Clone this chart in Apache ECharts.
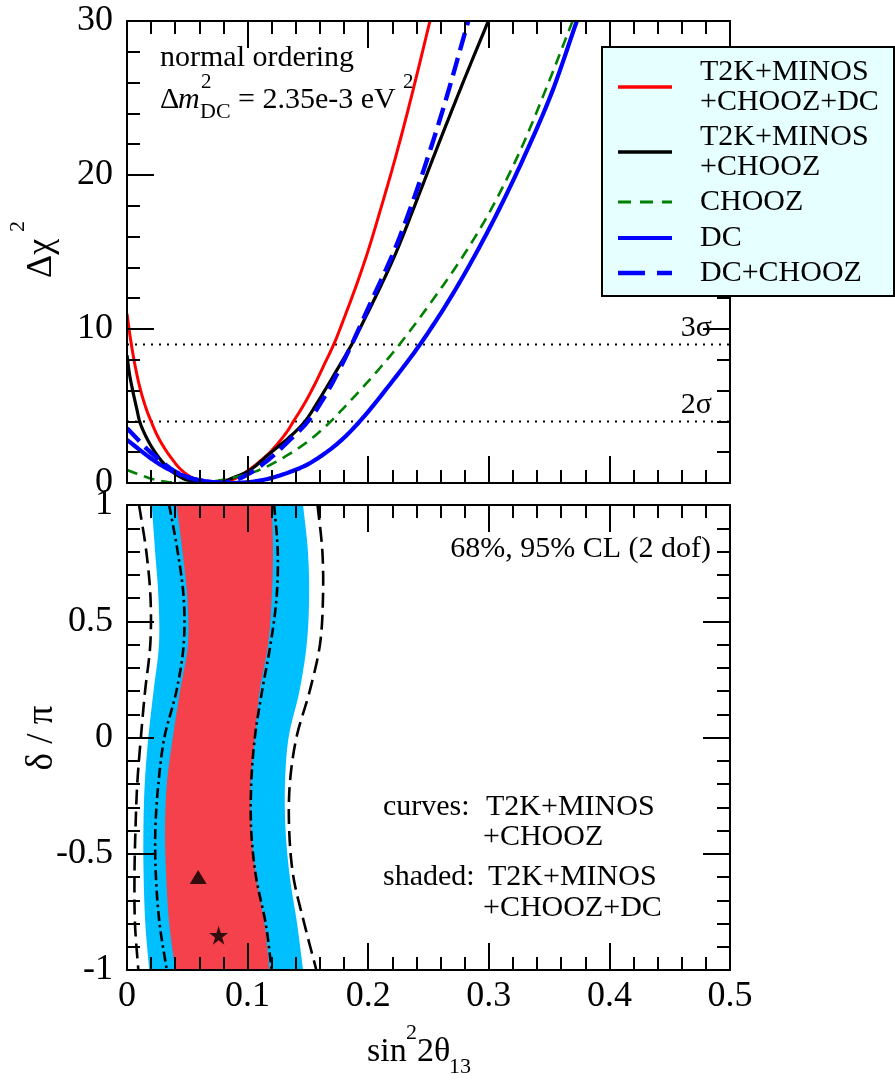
<!DOCTYPE html>
<html><head><meta charset="utf-8">
<script src="https://cdn.jsdelivr.net/npm/echarts@6/dist/echarts.min.js"></script>
<style>html,body{margin:0;padding:0;background:#fff}#c{width:895px;height:1085px}</style>
</head><body><div id="c"></div>
<script>
// ---------- top panel: Δχ² vs sin²2θ13 ----------
const chiT2kMinosChoozDc = [[0,11.0],[0.003,9.3],[0.007,7.5],[0.011,6.1],[0.016,4.8],[0.02,4.0],[0.025,3.1],[0.03,2.4],[0.036,1.7],[0.045,0.85],[0.055,0.3],[0.065,0.06],[0.077,0],[0.09,0.3],[0.102,0.9],[0.1186,2.0],[0.1324,3.3],[0.138,4.0],[0.146,5.0],[0.155,6.3],[0.163,7.6],[0.172,9.1],[0.18,10.7],[0.19,12.8],[0.2,15.1],[0.21,17.7],[0.22,20.4],[0.23,23.3],[0.24,26.4],[0.2512,30]];
const chiT2kMinosChooz = [[0,8.3],[0.002,7.1],[0.005,5.9],[0.008,4.85],[0.0105,4.0],[0.014,3.3],[0.02,2.4],[0.027,1.6],[0.035,0.9],[0.045,0.35],[0.055,0.08],[0.068,0],[0.08,0.12],[0.09,0.4],[0.102,0.84],[0.1186,1.93],[0.135,3.0],[0.1476,4.0],[0.16,5.5],[0.173,7.2],[0.1863,9.0],[0.2043,11.8],[0.2222,14.8],[0.24,18.3],[0.2568,21.7],[0.2789,26.06],[0.2996,30]];
const chiChooz = [[0,0.85],[0.011,0.52],[0.022,0.24],[0.035,0.05],[0.05,0],[0.065,0.04],[0.08,0.22],[0.102,0.63],[0.1186,1.17],[0.146,2.47],[0.165,3.7],[0.18,4.9],[0.2,6.6],[0.226,9.0],[0.26,12.6],[0.28,14.9],[0.3,17.5],[0.325,21.4],[0.348,25.7],[0.3695,30]];
const chiDc = [[0,2.8],[0.0108,2.14],[0.0216,1.5],[0.033,0.95],[0.044,0.56],[0.057,0.24],[0.071,0.06],[0.085,0],[0.1,0.05],[0.1186,0.3],[0.146,1.06],[0.16,1.7],[0.1766,2.7],[0.193,4.0],[0.218,6.4],[0.243,9.0],[0.268,12.0],[0.29,15.0],[0.31,18.0],[0.33,21.3],[0.352,25.3],[0.373,30]];
const chiDcChooz = [[0,3.55],[0.008,2.9],[0.016,2.25],[0.027,1.5],[0.038,0.84],[0.049,0.41],[0.063,0.12],[0.077,0.02],[0.09,0.2],[0.102,0.65],[0.1186,1.6],[0.1324,2.6],[0.15,4.0],[0.163,5.5],[0.1808,8.1],[0.2043,12.1],[0.2222,15.2],[0.2402,19.0],[0.261,24.0],[0.283,30]];
const sigmaLevels = [9, 4];
const sigmaLabels = ['3σ', '2σ'];
const legendNames = [['T2K+MINOS','+CHOOZ+DC'],['T2K+MINOS','+CHOOZ'],['CHOOZ'],['DC'],['DC+CHOOZ']];

// ---------- bottom panel: δ/π vs sin²2θ13 (boundary x at each δ/π) ----------
const deltaGrid     = [1, 0.8, 0.6, 0.4, 0.2, 0, -0.2, -0.4, -0.6, -0.8, -1];
const band95Left    = [0.0205,0.0233,0.0261,0.0265,0.022,0.0177,0.0147,0.0136,0.0138,0.0152,0.0184];
const band95Right   = [0.146,0.150,0.151,0.149,0.143,0.134,0.131,0.1315,0.135,0.141,0.146];
const band68Left    = [0.041,0.046,0.050,0.0505,0.044,0.038,0.033,0.0315,0.0325,0.035,0.040];
const band68Right   = [0.120,0.121,0.120,0.117,0.110,0.106,0.1025,0.103,0.107,0.114,0.118];
const curve68Left   = [0.035,0.042,0.047,0.047,0.041,0.031,0.026,0.0235,0.024,0.027,0.033];
const curve68Right  = [0.122,0.125,0.124,0.119,0.112,0.106,0.103,0.103,0.107,0.115,0.120];
const curve95Left   = [0.010,0.016,0.0195,0.0193,0.015,0.0115,0.0085,0.007,0.0062,0.0066,0.0094];
const curve95Right  = [0.158,0.162,0.1625,0.160,0.1515,0.1405,0.135,0.1345,0.138,0.147,0.157];
const bestFitCurves = [0.059, -0.6];   // triangle
const bestFitShaded = [0.076, -0.85];  // star

const xTicks = { min: 0, max: 0.5, interval: 0.1 };
const chiTicks = { min: 0, max: 30, interval: 10 };
const deltaTicks = { min: -1, max: 1, interval: 0.5 };

// ---------- helpers ----------
const FF = '"Liberation Serif", "Times New Roman", serif';
const pair = (xs) => xs.map((x, i) => [x, deltaGrid[i]]);

function axisCommon(showLabel, splitNum) {
  return {
    type: 'value', z: 10,
    axisLine: { show: true, onZero: false, lineStyle: { color: '#000', width: 2 } },
    axisTick: { show: true, inside: true, length: 27, lineStyle: { color: '#000', width: 2 } },
    minorTick: { show: true, splitNumber: splitNum, length: 13, lineStyle: { color: '#000', width: 2 } },
    splitLine: { show: false }, minorSplitLine: { show: false },
    axisLabel: { show: showLabel, color: '#000', fontFamily: FF, fontSize: 36, showMinLabel: true, showMaxLabel: true,
      formatter: v => String(Math.round(v * 1000) / 1000) }
  };
}
function xAx(grid, pos, lab) { return Object.assign(axisCommon(lab, 5), { gridIndex: grid, position: pos }, xTicks); }
function yAx(grid, pos, lab, t) { return Object.assign(axisCommon(lab, 5), { gridIndex: grid, position: pos }, t); }

// centripetal Catmull-Rom through pixel points (rendering only)
function spline(pts, n) {
  if (pts.length < 3) return pts.slice();
  const out = [];
  const d = (a, b) => Math.pow(Math.hypot(b[0] - a[0], b[1] - a[1]), 0.5) || 1e-6;
  const m = pts.length;
  const ext0 = [2 * pts[0][0] - pts[1][0], 2 * pts[0][1] - pts[1][1]];
  const extN = [2 * pts[m - 1][0] - pts[m - 2][0], 2 * pts[m - 1][1] - pts[m - 2][1]];
  for (let i = 0; i < m - 1; i++) {
    const p0 = i === 0 ? ext0 : pts[i - 1], p1 = pts[i], p2 = pts[i + 1], p3 = i + 2 < m ? pts[i + 2] : extN;
    const t0 = 0, t1 = t0 + d(p0, p1), t2 = t1 + d(p1, p2), t3 = t2 + d(p2, p3);
    for (let k = 0; k < n; k++) {
      const t = t1 + (t2 - t1) * k / n;
      const L = (a, b, ta, tb) => [(tb - t) / (tb - ta) * a[0] + (t - ta) / (tb - ta) * b[0], (tb - t) / (tb - ta) * a[1] + (t - ta) / (tb - ta) * b[1]];
      const A1 = L(p0, p1, t0, t1), A2 = L(p1, p2, t1, t2), A3 = L(p2, p3, t2, t3);
      const B1 = L(A1, A2, t0, t2), B2 = L(A2, A3, t1, t3);
      out.push(L(B1, B2, t1, t2));
    }
  }
  out.push(pts[m - 1]);
  return out;
}
function bandSeries(leftXs, rightXs, color) {
  return { type: 'custom', xAxisIndex: 2, yAxisIndex: 2, data: [[0.05, 0]], clip: true, silent: true, z: 1,
    renderItem: function (params, api) {
      if (params.dataIndex > 0) return null;
      const L = deltaGrid.map((dd, i) => api.coord([leftXs[i], dd]));
      const R = deltaGrid.map((dd, i) => api.coord([rightXs[i], dd])).reverse();
      return { type: 'polygon', shape: { points: spline(L, 12).concat(spline(R, 12)) }, style: { fill: color } };
    } };
}
function curveSeries(xi, yi, pts, color, width, dash, z) {
  return { type: 'custom', xAxisIndex: xi, yAxisIndex: yi, data: [[0.05, 0]], clip: true, silent: true, z: z || 3,
    renderItem: function (params, api) {
      if (params.dataIndex > 0) return null;
      const P = pts.map(p => api.coord(p));
      return { type: 'polyline', shape: { points: spline(P, 10) },
        style: { stroke: color, lineWidth: width, lineDash: dash || null, fill: null, lineCap: 'butt', lineJoin: 'round' } };
    } };
}

const series = [];
sigmaLevels.forEach(l => series.push({ type: 'line', xAxisIndex: 0, yAxisIndex: 0, data: [[xTicks.min, l], [xTicks.max, l]],
  symbol: 'none', silent: true, z: 2, lineStyle: { color: '#000', width: 2, type: [2, 6] } }));
series.push(curveSeries(0, 0, chiT2kMinosChoozDc, '#FF0000', 3));
series.push(curveSeries(0, 0, chiT2kMinosChooz, '#000000', 3.2));
series.push(curveSeries(0, 0, chiChooz, '#008000', 2.6, [11, 7]));
series.push(curveSeries(0, 0, chiDc, '#0000FF', 4.2));
series.push(curveSeries(0, 0, chiDcChooz, '#0000FF', 4.4, [18, 8]));

series.push(bandSeries(band95Left, band95Right, '#00BFFF'));
series.push(bandSeries(band68Left, band68Right, '#F5414B'));
series.push(curveSeries(2, 2, pair(curve68Left), '#000', 2.6, [10, 4, 2.5, 4]));
series.push(curveSeries(2, 2, pair(curve68Right), '#000', 2.6, [10, 4, 2.5, 4]));
series.push(curveSeries(2, 2, pair(curve95Left), '#000', 2.6, [15, 7]));
series.push(curveSeries(2, 2, pair(curve95Right), '#000', 2.6, [15, 7]));
series.push({ type: 'scatter', xAxisIndex: 2, yAxisIndex: 2, data: [bestFitCurves], symbol: 'triangle', symbolSize: [17, 14],
  itemStyle: { color: '#000' }, silent: true, z: 5 });
series.push({ type: 'scatter', xAxisIndex: 2, yAxisIndex: 2, data: [bestFitShaded],
  symbol: 'path://M50,0 L61,35 L98,35 L68,57 L79,91 L50,70 L21,91 L32,57 L2,35 L39,35 Z', symbolSize: 19,
  itemStyle: { color: '#000' }, silent: true, z: 5 });

// ---------- text / legend graphics ----------
const T = (text, x, y, size, opts) => Object.assign({ type: 'text', x, y, z: 100, silent: true,
  style: Object.assign({ text, fill: '#000', font: size + 'px ' + FF, align: 'left', verticalAlign: 'middle' }, opts || {}) });
const G = [];
G.push({ type: 'rect', z: 90, silent: true, shape: { x: 602, y: 47, width: 292, height: 249 }, style: { fill: '#E6FFFF', stroke: '#000', lineWidth: 2 } });
const legStyles = [
  { y: 87, color: '#FF0000', w: 3.5, dash: null },
  { y: 152, color: '#000000', w: 3.5, dash: null },
  { y: 202, color: '#008000', w: 3, dash: [13, 9] },
  { y: 238, color: '#0000FF', w: 4, dash: null },
  { y: 273, color: '#0000FF', w: 4.5, dash: [27, 12] }
];
const legTextY = [[72, 102], [137, 167], [202], [238], [273]];
legStyles.forEach((s, i) => {
  G.push({ type: 'line', z: 95, silent: true, shape: { x1: 618, y1: s.y, x2: 672, y2: s.y },
    style: { stroke: s.color, lineWidth: s.w, lineDash: s.dash || null } });
  legendNames[i].forEach((n, j) => G.push(T(n, 700, legTextY[i][j], 30)));
});
G.push(T(sigmaLabels[0], 712, 328, 30, { align: 'right' }));
G.push(T(sigmaLabels[1], 712, 405, 30, { align: 'right' }));
G.push(T('normal ordering', 160, 58, 30));
G.push(T('Δ', 160, 100, 30));
G.push(T('m', 178, 100, 30, { font: 'italic 30px ' + FF }));
G.push(T('2', 201, 82, 21));
G.push(T('DC', 200, 112, 22));
G.push(T('= 2.35e-3 eV', 238, 100, 30));
G.push(T('2', 403, 82, 21));
G.push(T('68%, 95% CL (2 dof)', 711, 549, 30, { align: 'right' }));
G.push(T('curves:', 383, 807, 30));
G.push(T('T2K+MINOS', 486, 807, 30));
G.push(T('+CHOOZ', 483, 837, 30));
G.push(T('shaded:', 383, 877, 30));
G.push(T('T2K+MINOS', 488, 877, 30));
G.push(T('+CHOOZ+DC', 483, 908, 30));
G.push(T('sin', 367, 1052, 34));
G.push(T('2', 406, 1033, 22));
G.push(T('2θ', 417, 1052, 34));
G.push(T('13', 449, 1067, 22));
G.push({ type: 'group', x: 42, y: 278, rotation: Math.PI / 2, children: [
  T('Δχ', 0, 0, 36), T('2', 46, -24, 22) ] });
G.push({ type: 'group', x: 42, y: 738, rotation: Math.PI / 2, children: [
  T('δ / π', 0, 0, 37, { align: 'center' }) ] });

const option = {
  backgroundColor: '#fff',
  animation: false,
  grid: [
    { left: 127, top: 21, width: 603, height: 462, outerBoundsMode: 'none', containLabel: false },
    { left: 127, top: 505, width: 603, height: 465, outerBoundsMode: 'none', containLabel: false }
  ],
  xAxis: [xAx(0, 'bottom', false), xAx(0, 'top', false), xAx(1, 'bottom', true), xAx(1, 'top', false)],
  yAxis: [yAx(0, 'left', true, chiTicks), yAx(0, 'right', false, chiTicks), yAx(1, 'left', true, deltaTicks), yAx(1, 'right', false, deltaTicks)],
  series,
  graphic: { elements: G }
};
option.xAxis.forEach(a => { a.axisLabel.margin = 9; });
option.yAxis.forEach(a => { a.axisLabel.margin = 14; });

const chart = echarts.init(document.getElementById('c'), null, { renderer: 'canvas' });
chart.setOption(option);
</script>
</body></html>
